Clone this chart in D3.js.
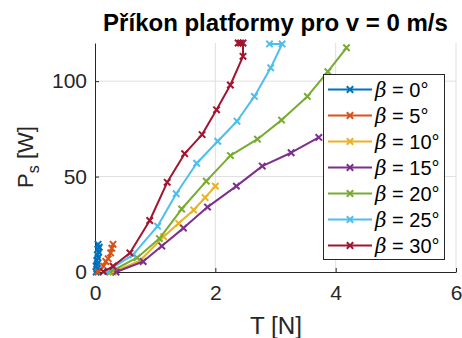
<!DOCTYPE html>
<html><head><meta charset="utf-8">
<script src="https://cdn.jsdelivr.net/npm/d3@7"></script>
<style>body{margin:0;background:#fff}svg{display:block}</style>
</head><body><svg id="c" width="462" height="338"></svg>
<script>
const labels = ["0°","5°","10°","15°","20°","25°","30°"];
const colors = ["#0072BD","#D95319","#EDB120","#7E2F8E","#77AC30","#4DBEEE","#A2142F"];
const T0  = [0.02,0.03,0.02,0.04,0.03,0.05,0.04,0.06,0.05,0.07,0.05];
const P0  = [0,1.5,3,4.5,6,7.5,9,10.5,12,13,14.5];
const T5  = [0.05,0.14,0.18,0.22,0.26,0.28,0.30];
const P5  = [0,3,5.5,7,10,12.5,14.5];
const T10 = [0.3,0.75,1.14,1.39,1.64,1.83,2.0];
const P10 = [0,6,18.5,25.5,32.5,39,45];
const T15 = [0.35,0.8,1.11,1.47,1.87,2.35,2.78,3.26,3.72];
const P15 = [0,5.5,13.6,23,34,45,55.5,62.5,70.5];
const T20 = [0.25,0.7,1.07,1.44,1.85,2.25,2.7,3.1,3.53,3.87,4.18];
const P20 = [0,7.5,17.5,33,47.6,61,69.6,79.6,92,105,117.5];
const T25 = [0.2,0.63,1.04,1.35,1.69,2.04,2.36,2.65,2.92,3.11,2.9];
const P25 = [0.5,9,24,41,57,68.5,79,92,107,119.5,119.5];
const T30 = [0.14,0.3,0.58,0.91,1.2,1.49,1.78,2.02,2.25,2.46,2.46,2.42,2.38];
const P30 = [0.2,3,10,27,47,62,72,85,98,113,120,120,120];
const xTicks = [0,2,4,6];
const yTicks = [0,50,100];

const Ts = [T0,T5,T10,T15,T20,T25,T30];
const Ps = [P0,P5,P10,P15,P20,P25,P30];

const svg = d3.select("#c");
const x = d3.scaleLinear().domain([0,6]).range([95,456]);
const y = d3.scaleLinear().domain([0,120]).range([272,43]);
const font = "Liberation Sans, Arial, sans-serif";

function fit(sel, target){
  const len = sel.node().getComputedTextLength();
  const fs = +sel.attr("font-size");
  sel.attr("font-size", fs*target/len);
}

// grid
svg.append("g").selectAll("line").data(xTicks.filter(d=>d>0)).join("line")
  .attr("x1",d=>x(d)).attr("x2",d=>x(d)).attr("y1",y(0)).attr("y2",y(120))
  .attr("stroke","#dfdfdf").attr("stroke-width",1);
svg.append("g").selectAll("line").data(yTicks.filter(d=>d>0)).join("line")
  .attr("x1",x(0)).attr("x2",x(6)).attr("y1",d=>y(d)).attr("y2",d=>y(d))
  .attr("stroke","#dfdfdf").attr("stroke-width",1);

// axes
const xAxis = svg.append("g").attr("transform",`translate(0,${y(0)})`)
  .call(d3.axisBottom(x).tickValues(xTicks).tickSizeInner(-4).tickSizeOuter(0).tickPadding(10).tickFormat(d3.format("d")));
const yAxis = svg.append("g").attr("transform",`translate(${x(0)},0)`)
  .call(d3.axisLeft(y).tickValues(yTicks).tickSizeInner(-4).tickSizeOuter(0).tickPadding(8).tickFormat(d3.format("d")));
[xAxis,yAxis].forEach(a=>{
  a.select(".domain").attr("stroke","#262626").attr("stroke-width",1);
  a.selectAll(".tick line").attr("stroke","#262626");
  a.selectAll("text").attr("fill","#262626").attr("font-family",font).attr("font-size",21);
});
xAxis.selectAll("text").attr("dy","0.85em");

// series
const line = d3.line().x(d=>x(d[0])).y(d=>y(d[1]));
const ms = 3.2;
function marker(g, px, py, c){
  g.append("path").attr("d",`M${px-ms},${py-ms}L${px+ms},${py+ms}M${px-ms},${py+ms}L${px+ms},${py-ms}`)
    .attr("stroke",c).attr("stroke-width",2).attr("fill","none");
}
const plot = svg.append("g");
Ts.forEach((T,i)=>{
  const pts = T.map((t,j)=>[t,Ps[i][j]]);
  const g = plot.append("g");
  g.append("path").datum(pts).attr("d",line).attr("fill","none")
    .attr("stroke",colors[i]).attr("stroke-width",2).attr("stroke-linejoin","round");
  pts.forEach(p=>marker(g,x(p[0]),y(p[1]),colors[i]));
});

// legend
const lg = svg.append("g");
lg.append("rect").attr("x",323.5).attr("y",74.5).attr("width",121).attr("height",185)
  .attr("fill","#fff").attr("stroke","#262626").attr("stroke-width",1);
labels.forEach((l,i)=>{
  const cy = 89.5 + i*26;
  lg.append("line").attr("x1",328).attr("x2",372).attr("y1",cy).attr("y2",cy)
    .attr("stroke",colors[i]).attr("stroke-width",2);
  marker(lg,350,cy,colors[i]);
  const t = lg.append("text").attr("x",375).attr("y",cy).attr("dy","0.36em")
    .attr("font-family",font).attr("font-size",20).attr("fill","#000");
  t.append("tspan").attr("font-family","DejaVu Serif, serif").attr("font-style","italic").attr("font-weight",300).text("β");
  t.append("tspan").text(" = "+l);
});

// title
const title = svg.append("text").attr("x",275.5).attr("y",31).attr("text-anchor","middle")
  .attr("font-family",font).attr("font-weight","bold").attr("font-size",20).attr("fill","#000")
  .text("Příkon platformy pro v = 0 m/s");
fit(title, 345);
// x label
const xl = svg.append("text").attr("x",276).attr("y",334).attr("text-anchor","middle")
  .attr("font-family",font).attr("font-size",20).attr("fill","#262626").text("T [N]");
fit(xl, 52);
// y label
const yl = svg.append("text").attr("transform","translate(33,157) rotate(-90)").attr("text-anchor","middle")
  .attr("font-family",font).attr("font-size",22).attr("fill","#262626");
yl.append("tspan").text("P");
yl.append("tspan").attr("font-size",16).attr("dy",6).text("s");
yl.append("tspan").attr("dy",-6).text(" [W]");
</script></body></html>
